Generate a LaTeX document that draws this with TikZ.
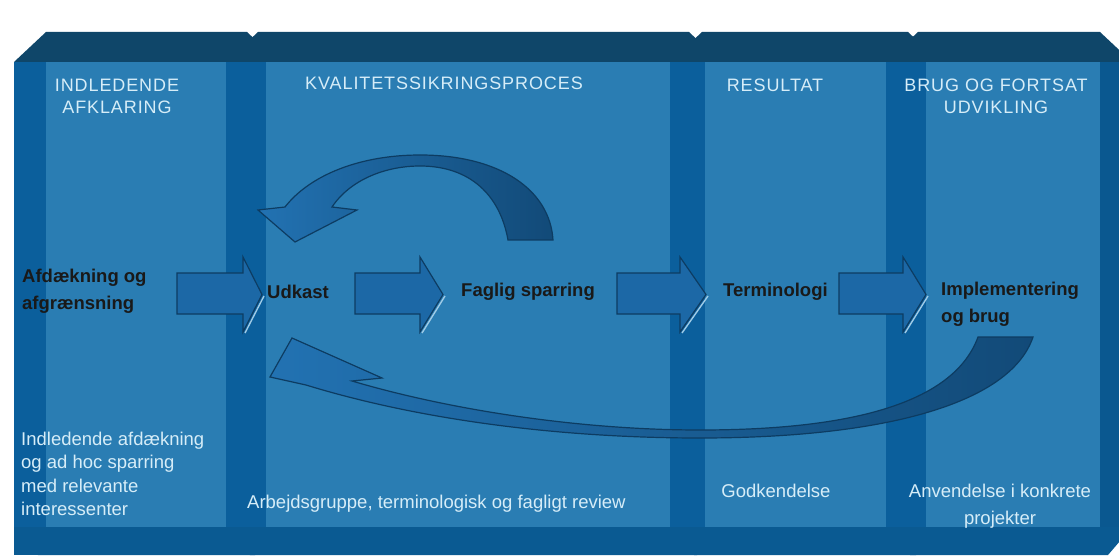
\documentclass[tikz,border=0pt]{standalone}
\usepackage{fontspec}
\setmainfont{Liberation Sans}
\newfontfamily\headfont[LetterSpace=5]{Liberation Sans}
\usetikzlibrary{positioning}

\definecolor{topband}{HTML}{0F4669}
\definecolor{sideband}{HTML}{0B5F9C}
\definecolor{rightband}{HTML}{0A5890}
\definecolor{frontface}{HTML}{2A7DB3}
\definecolor{botband}{HTML}{0A5A92}
\definecolor{arrowfill}{HTML}{1C68A6}
\definecolor{arrowline}{HTML}{0D3C62}
\definecolor{arrowlight}{HTML}{2272B2}
\definecolor{arrowdark}{HTML}{124A78}
\definecolor{glintcol}{HTML}{9FCBE6}
\definecolor{paletext}{HTML}{D6EDF8}

% one phase box: #1 left, #2 right, #3 width of left side
\newcommand{\phasebox}[3]{%
  \fill[topband] (#1,62) -- (#1+32,32) -- (#2-32,32) -- (#2,62) -- cycle;
  \fill[botband] (#1,527) -- (#2,527) -- (#2-24,555) -- (#1+24,555) -- cycle;
  \fill[sideband] (#1,62) rectangle (#1+#3,527);
  \fill[rightband] (#2-32,62) rectangle (#2,527);
  \fill[frontface] (#1+#3,62) rectangle (#2-32,527);
}

% fat arrow: #1 tail, #2 head base, #3 tip
\newcommand{\fatarrow}[3]{%
  \draw[blockarrow] (#1,273) -- (#2,273) -- (#2,257) -- (#3,294.5) -- (#2,332) -- (#2,314) -- (#1,314) -- cycle;
  \draw[glint] (#3+2,296) -- (#2+2,333);
}

\begin{document}
\begin{tikzpicture}[x=1pt,y=-1pt,
  head/.style={text=paletext, font=\headfont\fontsize{18}{22}\selectfont, align=center, inner sep=0pt, anchor=north},
  stage/.style={text=black!90, font=\bfseries\fontsize{18.5}{27}\selectfont, align=left, inner sep=0pt, anchor=west},
  note/.style={text=paletext, font=\fontsize{18.5}{23.5}\selectfont, inner sep=0pt},
  blockarrow/.style={fill=arrowfill, draw=arrowline, line width=1.2pt},
  glint/.style={glintcol, line width=1.4pt},
  bentarrow/.style={draw=arrowline, line width=1.2pt, left color=arrowlight, right color=arrowdark}]

% frame
\useasboundingbox (0,0) rectangle (1119,556);
\clip (0,0) rectangle (1119,556);
\fill[white] (0,0) rectangle (1119,556);

% Boxes
\phasebox{14}{279}{32}
\fill[botband] (14,527) rectangle (40,555);
\phasebox{226}{721}{40}
\phasebox{670}{940}{35}
\phasebox{886}{1132}{40}

% Headings
\node[head] (h1) at (117,79) {INDLEDENDE\\AFKLARING};
\node[head] (h2) at (444,77) {KVALITETSSIKRINGSPROCES};
\node[head] (h3) at (775,79) {RESULTAT};
\node[head] (h4) at (996,79) {BRUG OG FORTSAT\\UDVIKLING};

% Straight arrows
\fatarrow{177}{243}{262}
\fatarrow{355}{420}{443}
\fatarrow{617}{680}{706}
\fatarrow{839}{903}{926}

% Loop back to Udkast
\draw[bentarrow] (285,207) .. controls (310,175) and (360,155) .. (420,155)
  .. controls (500,155) and (550,190) .. (553,240) -- (508,240)
  .. controls (500,195) and (470,166) .. (420,166)
  .. controls (385,166) and (350,180) .. (332,207)
  -- (357,210) -- (295,242) -- (258,210) -- cycle;

% Long return from Implementering
\draw[bentarrow] (978,337) -- (1033,337)
  .. controls (1010,405) and (880,438) .. (700,438)
  .. controls (560,438) and (420,420) .. (306,385)
  -- (270,377) -- (292,338) -- (382,378) -- (352,381)
  .. controls (450,410) and (580,430) .. (700,430)
  .. controls (860,430) and (955,400) .. (978,337) -- cycle;

% Stage labels
\node[stage] (afd) at (22,291) {Afdækning og\\afgrænsning};
\node[stage] (udk) at (267,292) {Udkast};
\node[stage] (fag) at (461,292) {Faglig sparring};
\node[stage] (ter) at (723,292) {Terminologi};
\node[stage] (imp) at (941,304) {Implementering\\og brug};

% Notes at the bottom
\node[note, anchor=west, align=left] (n1) at (21,474) {Indledende afdækning\\og ad hoc sparring\\med relevante\\interessenter};
\node[note, anchor=west] (n2) at (247,504) {Arbejdsgruppe, terminologisk og fagligt review};
\node[note] (n3) at (776,491) {Godkendelse};
\node[note, align=center, font=\fontsize{18.5}{27}\selectfont] (n4) at (1000,506) {Anvendelse i konkrete\\projekter};

\end{tikzpicture}
\end{document}
